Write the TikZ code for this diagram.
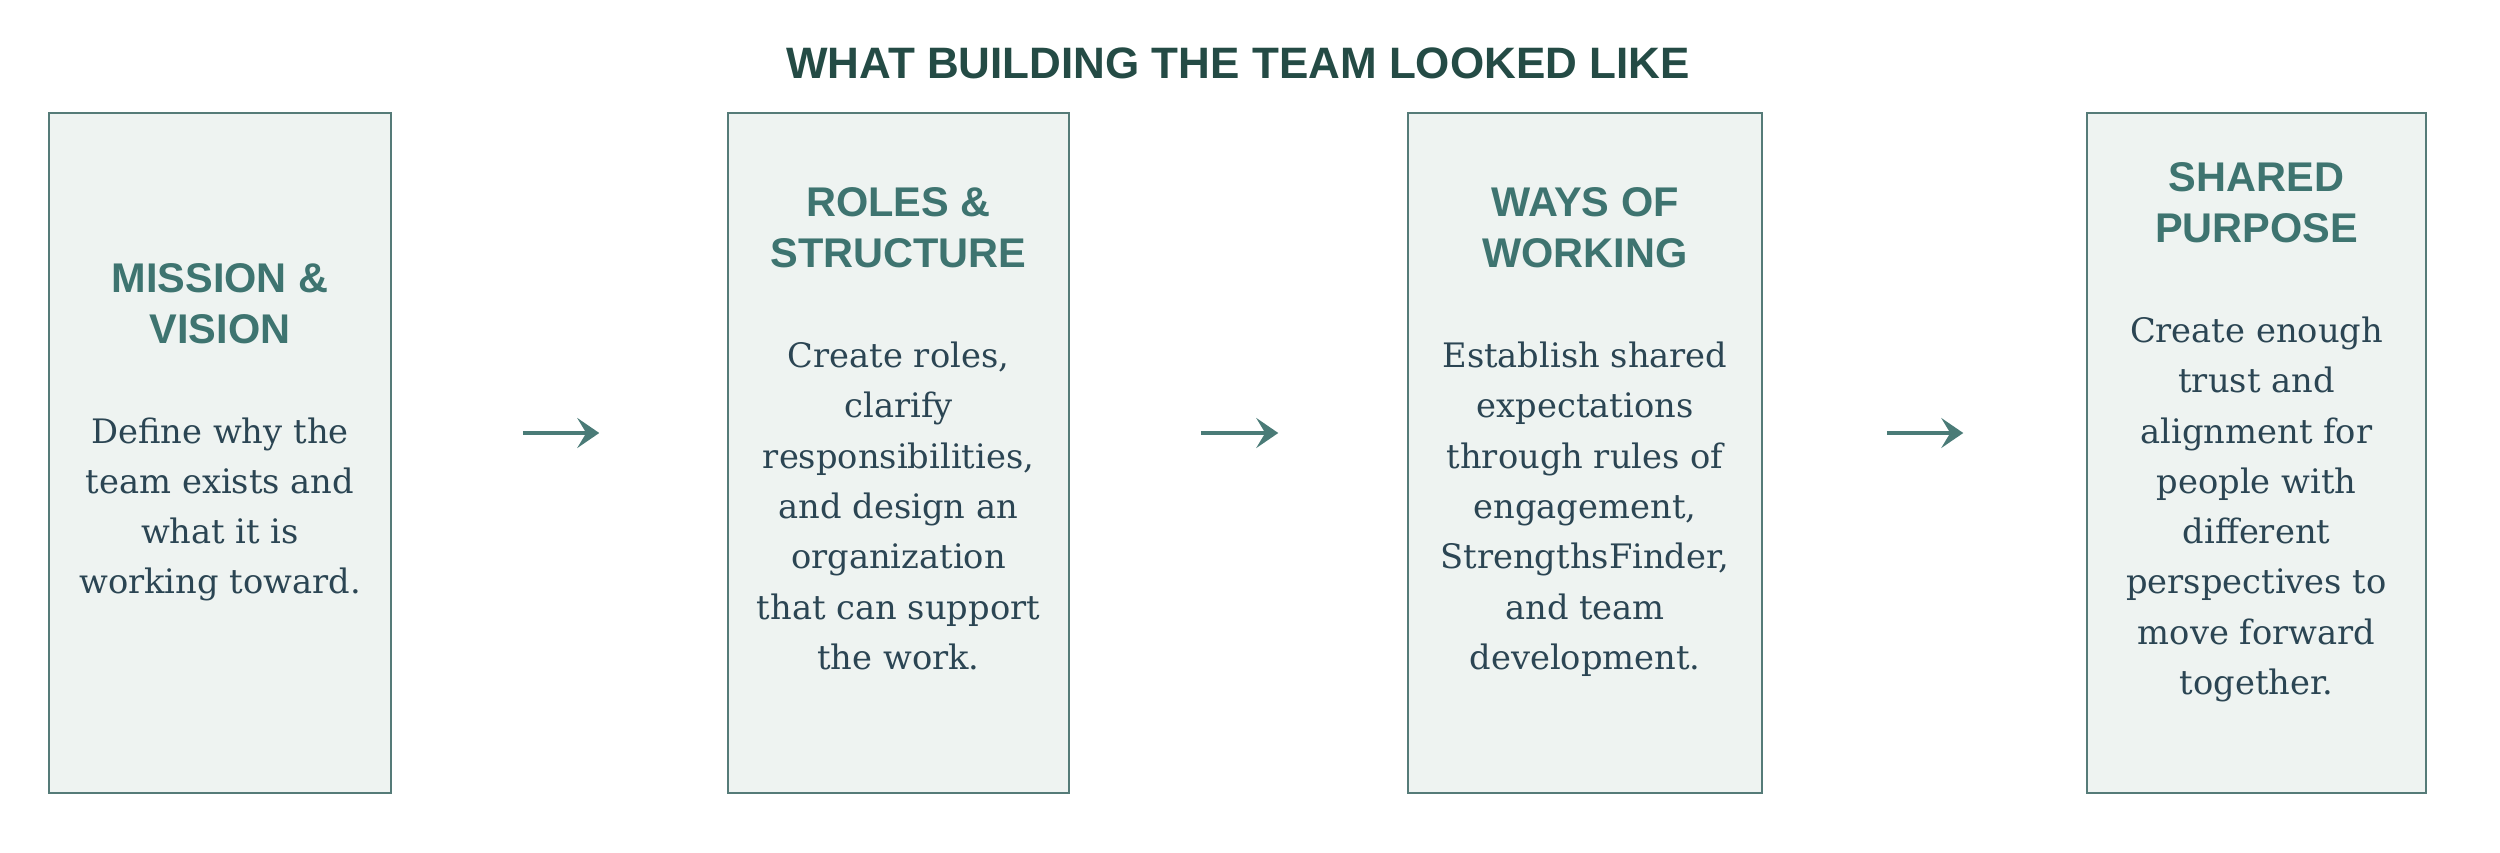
\documentclass[tikz,border=0pt]{standalone}
\usepackage{fontspec}
\setmainfont{DejaVu Serif}
\newfontfamily\headfont{Liberation Sans}
\usetikzlibrary{arrows.meta}
\definecolor{boxfill}{HTML}{EEF3F1}
\definecolor{boxline}{HTML}{557B78}
\definecolor{headcol}{HTML}{3E7470}
\definecolor{bodycol}{HTML}{2B4553}
\definecolor{titlecol}{HTML}{244B45}
\definecolor{arrowcol}{HTML}{4A7B77}
\tikzset{
  panelbox/.style={draw=boxline, line width=1.5pt, fill=boxfill, inner sep=0pt, minimum height=680pt},
  headline/.style={inner sep=0pt, anchor=base, text=headcol, font=\headfont\bfseries\fontsize{41.5}{51}\selectfont},
  bodyline/.style={inner sep=0pt, anchor=base, text=bodycol, font=\fontsize{33.7}{50}\selectfont},
  titletext/.style={inner sep=0pt, anchor=base, text=titlecol, font=\headfont\bfseries\fontsize{44}{52}\selectfont},
  flowarrow/.style={draw=arrowcol, line width=4pt, -{Stealth[length=22pt, width=30pt, inset=9pt]}}
}
\newcommand\mypanel[5]{%
  \foreach \t [count=\i from 0] in {#4}
    \node[headline] (#1h\i) at (#2, {#3+51*\i}) {\t};
  \foreach \t [count=\i from 0] in {#5}
    \node[bodyline] (#1b\i) at (#2, {#3+151+50.3*\i}) {\t};
}
\begin{document}
\begin{tikzpicture}[x=1pt, y=-1pt]
\useasboundingbox (0,0) rectangle (2500,853);
\node[titletext] (title) at (1238,79) {WHAT BUILDING THE TEAM LOOKED LIKE};

\node[panelbox, minimum width=342pt] (b1) at (220,453) {};
\node[panelbox, minimum width=341pt] (b2) at (898.5,453) {};
\node[panelbox, minimum width=354pt] (b3) at (1585,453) {};
\node[panelbox, minimum width=339pt] (b4) at (2256.5,453) {};

\mypanel{p1}{220}{292}{{MISSION \&},{VISION}}{{Define why the},{team exists and},{what it is},{working toward.}}
\mypanel{p2}{898.5}{216.6}{{ROLES \&},{STRUCTURE}}{{Create roles,},{clarify},{responsibilities,},{and design an},{organization},{that can support},{the work.}}
\mypanel{p3}{1585}{216.6}{{WAYS OF},{WORKING}}{{Establish shared},{expectations},{through rules of},{engagement,},{StrengthsFinder,},{and team},{development.}}
\mypanel{p4}{2256.5}{191.4}{{SHARED},{PURPOSE}}{{Create enough},{trust and},{alignment for},{people with},{different},{perspectives to},{move forward},{together.}}

\draw[flowarrow, shorten <=131pt, shorten >=128pt] ([yshift=20pt]b1.east) -- ([yshift=20pt]b2.west);
\draw[flowarrow, shorten <=131pt, shorten >=129pt] ([yshift=20pt]b2.east) -- ([yshift=20pt]b3.west);
\draw[flowarrow, shorten <=124pt, shorten >=123pt] ([yshift=20pt]b3.east) -- ([yshift=20pt]b4.west);
\end{tikzpicture}
\end{document}
